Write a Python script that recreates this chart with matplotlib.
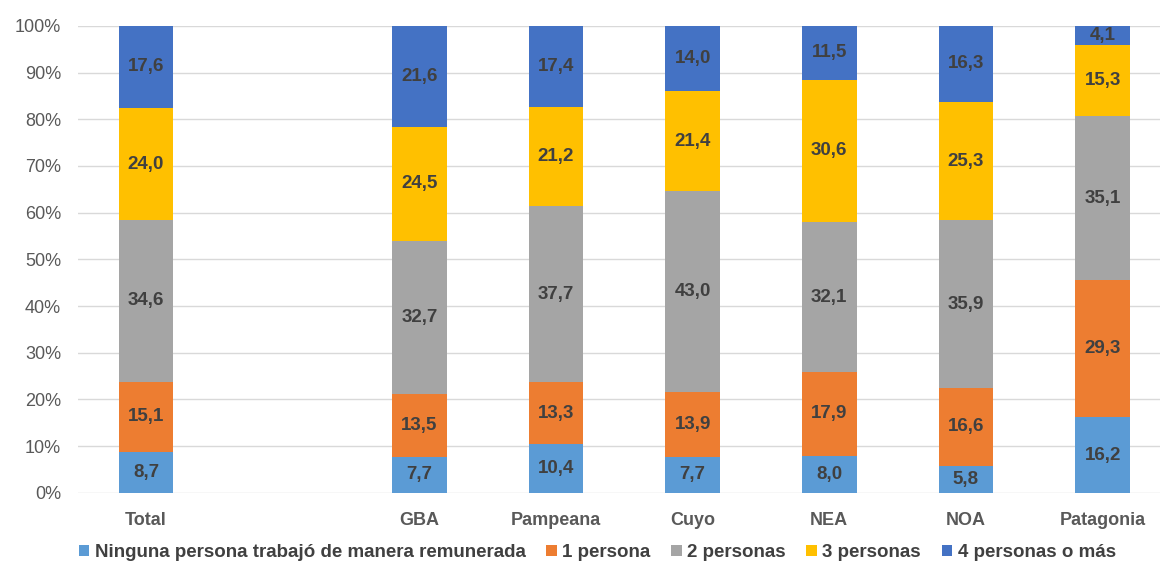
import matplotlib
matplotlib.use("Agg")
import matplotlib.pyplot as plt
import numpy as np

plt.rcParams['font.family'] = ['Liberation Sans', 'DejaVu Sans']

categories = ["Total", "GBA", "Pampeana", "Cuyo", "NEA", "NOA", "Patagonia"]
positions = [0, 2, 3, 4, 5, 6, 7]
series_names = ["Ninguna persona trabajó de manera remunerada", "1 persona",
                "2 personas", "3 personas", "4 personas o más"]
ninguna = [8.7, 7.7, 10.4, 7.7, 8.0, 5.8, 16.2]
una = [15.1, 13.5, 13.3, 13.9, 17.9, 16.6, 29.3]
dos = [34.6, 32.7, 37.7, 43.0, 32.1, 35.9, 35.1]
tres = [24.0, 24.5, 21.2, 21.4, 30.6, 25.3, 15.3]
cuatro = [17.6, 21.6, 17.4, 14.0, 11.5, 16.3, 4.1]
colors = ["#5B9BD5", "#ED7D31", "#A5A5A5", "#FFC000", "#4472C4"]

series = np.array([ninguna, una, dos, tres, cuatro])
totals = series.sum(axis=0)
shares = series / totals * 100

fig = plt.figure(figsize=(11.6, 5.62), dpi=100)
ax = fig.add_axes([0.067, 0.123, 0.933, 0.831])

bottom = np.zeros(len(categories))
for i, (name, vals, col) in enumerate(zip(series_names, shares, colors)):
    ax.bar(positions, vals, bottom=bottom, width=0.4, color=col, label=name, zorder=3)
    for x, b, v, raw in zip(positions, bottom, vals, series[i]):
        ax.text(x, b + v / 2, f"{raw:.1f}".replace(".", ","), ha="center", va="center",
                fontsize=13.5, fontweight="bold", color="#404040", zorder=4)
    bottom += vals

ax.set_ylim(0, 100)
ax.set_xlim(-0.5, 7.42)
ax.set_yticks(np.arange(0, 101, 10))
ax.set_yticklabels([f"{v}%" for v in range(0, 101, 10)], fontsize=13, color="#595959")
ax.set_xticks(positions)
ax.set_xticklabels(categories, fontsize=13, fontweight="bold", color="#595959")
ax.tick_params(axis="both", length=0)
ax.tick_params(axis="x", pad=14)
ax.tick_params(axis="y", pad=12)
ax.grid(axis="y", color="#D9D9D9", linewidth=1, zorder=0)
for s in ax.spines.values():
    s.set_visible(False)

leg = fig.legend(loc="lower center", bbox_to_anchor=(0.515, -0.028), ncol=5, frameon=False,
                 handlelength=0.55, handleheight=0.55, handletextpad=0.3, columnspacing=1.1,
                 prop={"size": 13.5, "weight": "bold"})
for t in leg.get_texts():
    t.set_color("#404040")

fig.savefig("out.png", dpi=100)
